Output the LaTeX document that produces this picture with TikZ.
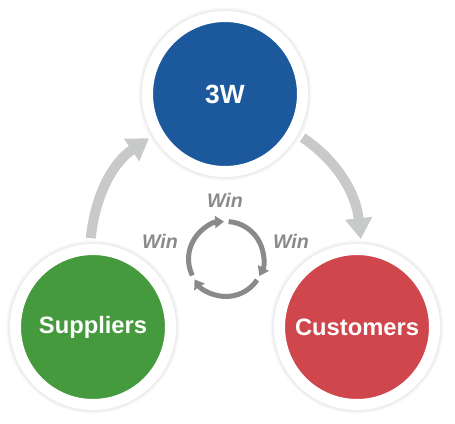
\documentclass[tikz,border=0pt]{standalone}
\usepackage{fontspec}
\setmainfont{Liberation Sans}
\usepackage{tikz}
\usepackage{xcolor}
\usetikzlibrary{arrows.meta}

\definecolor{wwblue}{HTML}{1C589C}
\definecolor{wwgreen}{HTML}{459A3D}
\definecolor{wwred}{HTML}{CF464D}
\definecolor{flowgray}{HTML}{C8CAC9}
\definecolor{wingray}{HTML}{8A8A8A}

\begin{document}
\begin{tikzpicture}[
  x=0.02cm, y=0.02cm,
  >=Stealth,
  party/.style={circle, minimum size=3.1cm, inner sep=0pt, draw=white, line width=0.22cm,
    preaction={draw=black!3, line width=0.36cm},
    preaction={draw=black!7, line width=0.29cm}, text=white,
    font=\fontsize{13.5}{15}\selectfont\bfseries},
  flow/.style={-{Triangle[width=0.52cm, length=0.42cm]}, line width=0.2cm, flowgray},
  cyc/.style={-{Triangle[width=0.24cm, length=0.18cm]}, line width=0.1cm, wingray},
  win/.style={text=wingray, font=\fontsize{11.2}{13}\selectfont\bfseries\itshape}
]
\useasboundingbox (0,0) rectangle (455,423);

% The three partners
\node[party, fill=wwblue, font=\fontsize{15}{17}\selectfont\bfseries] (top) at (225,329) {3W};
\node[party, fill=wwgreen] (sup) at (93,96) {Suppliers};
\node[party, fill=wwred] (cus) at (357,96) {Customers};

% Big flow arrows
\draw[flow, shorten <=0.12cm, shorten >=0.1cm] (sup.92) to[out=84, in=214] (top.210);
\draw[flow, shorten <=0.12cm, shorten >=0.1cm] (top.331) to[out=-34, in=96] (cus.87);

% Small win-win-win cycle
\coordinate (hub) at (226,164);
\draw[cyc] ([shift=(206:0.75cm)]hub) arc[start angle=206, end angle=93, radius=0.75cm];
\draw[cyc] ([shift=(86:0.75cm)]hub) arc[start angle=86, end angle=-27, radius=0.75cm];
\draw[cyc] ([shift=(-34:0.75cm)]hub) arc[start angle=-34, end angle=-147, radius=0.75cm];

% Labels
\node[win] (wintop) at (225,223) {Win};
\node[win] (winleft) at (160,182) {Win};
\node[win] (winright) at (291,182) {Win};

\end{tikzpicture}
\end{document}
